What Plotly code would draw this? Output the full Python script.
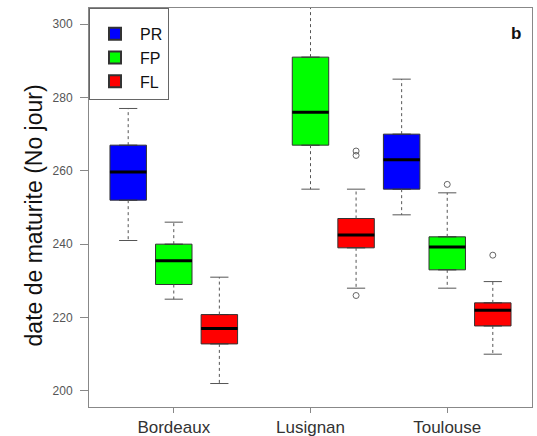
import plotly.graph_objects as go

# ---- data ----
sites = ["Bordeaux", "Lusignan", "Toulouse"]
groups = ["PR", "FP", "FL"]

PR_lower = [241, None, 248]
PR_q1 = [252, None, 255]
PR_median = [259.7, None, 263]
PR_q3 = [267, None, 270]
PR_upper = [277, None, 285]
PR_outliers = [[], [], []]

FP_lower = [225, 255, 228]
FP_q1 = [229, 267, 233]
FP_median = [235.5, 276, 239.2]
FP_q3 = [240, 291, 242]
FP_upper = [246, 308, 254]
FP_outliers = [[], [], [256.3]]

FL_lower = [202, 228, 210]
FL_q1 = [212.8, 239, 217.7]
FL_median = [217, 242.5, 222]
FL_q3 = [220.8, 247, 224]
FL_upper = [231, 255, 229.8]
FL_outliers = [[], [264.2, 265.4, 226], [237]]

y_ticks = [200, 220, 240, 260, 280, 300]

stats = {
    "PR": (PR_lower, PR_q1, PR_median, PR_q3, PR_upper, PR_outliers),
    "FP": (FP_lower, FP_q1, FP_median, FP_q3, FP_upper, FP_outliers),
    "FL": (FL_lower, FL_q1, FL_median, FL_q3, FL_upper, FL_outliers),
}
fill = {"PR": "#0000FF", "FP": "#00FF00", "FL": "#FF0000"}

BOXW = 0.8
CAPW = 0.4
fig = go.Figure()

for gi, g in enumerate(groups):
    lo, q1, med, q3, up, outl = stats[g]
    xs, q1s, meds, q3s = [], [], [], []
    wx, wy, cx, cy, mx, my, ox, oy = [], [], [], [], [], [], [], []
    for si, s in enumerate(sites):
        if med[si] is None:
            continue
        pos = si * 3 + gi + 1
        xs.append(pos); q1s.append(q1[si]); meds.append(med[si]); q3s.append(q3[si])
        # whiskers
        wx += [pos, pos, None, pos, pos, None]
        wy += [q3[si], up[si], None, q1[si], lo[si], None]
        # caps
        cx += [pos - CAPW / 2, pos + CAPW / 2, None, pos - CAPW / 2, pos + CAPW / 2, None]
        cy += [up[si], up[si], None, lo[si], lo[si], None]
        # medians
        mx += [pos - BOXW / 2, pos + BOXW / 2, None]
        my += [med[si], med[si], None]
        for o in outl[si]:
            ox.append(pos); oy.append(o)
    fig.add_trace(go.Scatter(x=wx, y=wy, mode="lines", showlegend=False, hoverinfo="skip",
                             line=dict(color="#555555", width=1, dash="3px,3px")))
    fig.add_trace(go.Scatter(x=cx, y=cy, mode="lines", showlegend=False, hoverinfo="skip",
                             line=dict(color="#555555", width=1)))
    fig.add_trace(go.Box(x=xs, q1=q1s, median=meds, q3=q3s, lowerfence=q1s, upperfence=q3s,
                         width=BOXW, fillcolor=fill[g], line=dict(color="#333333", width=1),
                         boxpoints=False, showlegend=False, hoverinfo="skip"))
    fig.add_trace(go.Scatter(x=mx, y=my, mode="lines", showlegend=False, hoverinfo="skip",
                             line=dict(color="#000000", width=3)))
    if ox:
        fig.add_trace(go.Scatter(x=ox, y=oy, mode="markers", showlegend=False, hoverinfo="skip",
                                 marker=dict(symbol="circle-open", size=6, color="#666666",
                                             line=dict(width=1))))
    # legend entry
    fig.add_trace(go.Scatter(x=[None], y=[None], mode="markers", name=g, legendgroup=g,
                             marker=dict(symbol="square", size=13, color=fill[g],
                                         line=dict(color="#333333", width=1))))

fig.add_annotation(text="date de maturite (No jour)", textangle=-90, xref="paper", yref="paper",
                   x=-0.122, y=0.48, xanchor="center", yanchor="middle", showarrow=False,
                   font=dict(size=23, color="#111111"))
fig.add_annotation(text="<b>b</b>", xref="paper", yref="paper", x=0.964, y=0.937,
                   xanchor="center", yanchor="middle", showarrow=False,
                   font=dict(size=17, color="#111111"))

fig.update_layout(
    width=537, height=436,
    margin=dict(l=89, r=5, t=8, b=29),
    paper_bgcolor="white", plot_bgcolor="white",
    font=dict(family="Liberation Sans, Arial, sans-serif", color="#222222"),
    showlegend=True,
    legend=dict(x=0, y=1, xanchor="left", yanchor="top", bgcolor="white",
                bordercolor="#666666", borderwidth=1, font=dict(size=16, color="#111111"),
                tracegroupgap=0, itemsizing="constant", itemwidth=40,
                title=dict(text=" ", font=dict(size=6))),
    xaxis=dict(range=[0.14, 9.86], tickvals=[2, 5, 8], ticktext=sites, showgrid=False,
               zeroline=False, showline=True, mirror=True, linecolor="#888888", linewidth=1,
               ticks="outside", ticklen=5, tickcolor="#888888", automargin=False,
               tickfont=dict(size=17, color="#333333")),
    yaxis=dict(range=[195.6, 304.4], tickvals=y_ticks, showgrid=False, zeroline=False,
               showline=True, mirror=True, linecolor="#888888", linewidth=1,
               ticks="outside", ticklen=8, tickcolor="#888888", ticklabelstandoff=5,
               automargin=False, tickfont=dict(size=12, color="#555555")),
)

fig.write_html("out.html", post_script="document.body.style.margin='0';",
               config={"displayModeBar": False})
